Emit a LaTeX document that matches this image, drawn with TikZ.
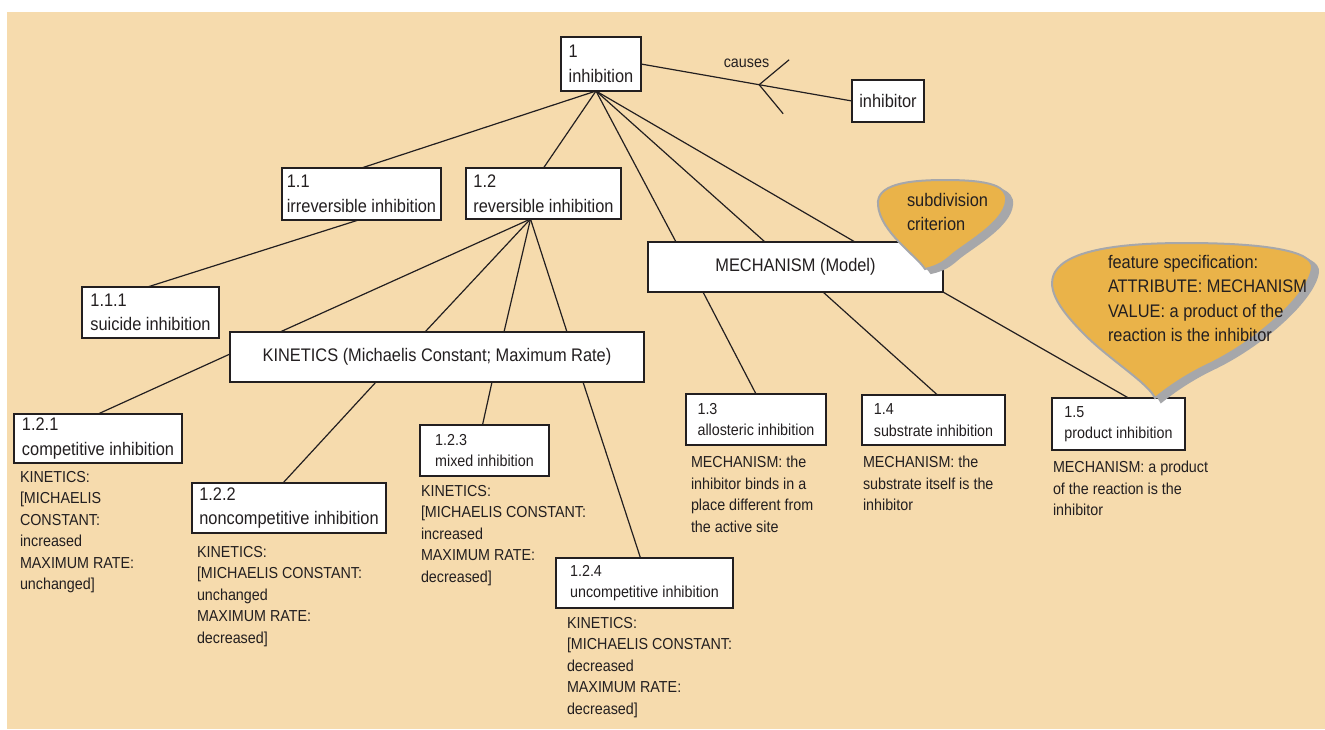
\documentclass[tikz,border=0pt]{standalone}
\usepackage{fontspec}
\setmainfont{Liberation Sans}[FakeStretch=0.9]
\usetikzlibrary{positioning}
\definecolor{ink}{RGB}{35,31,32}
\definecolor{paper}{RGB}{246,219,173}
\definecolor{bubble}{RGB}{234,179,73}
\definecolor{shade}{RGB}{166,167,170}
\newcommand\boxfont{\fontsize{18.2}{24.5}\selectfont}
\newcommand\notefont{\fontsize{15.9}{21.5}\selectfont}

\begin{document}
\begin{tikzpicture}[
    x=1pt, y=-1pt,
    every node/.style={
        text=ink, inner sep=0pt, outer sep=0pt
    },
    box/.style={
        draw=ink, fill=white, line width=1.3pt,
        align=left, anchor=north west, font=\boxfont
    },
    small/.style={
        font=\notefont
    },
    wh/.style 2 args={
        minimum width=#1pt, minimum height=#2pt
    },
    note/.style={
        align=left, anchor=north west, font=\notefont
    },
    link/.style={
        draw=ink, line width=1.2pt
    },
    balloon/.style={
        fill=bubble, draw=shade, line width=2pt,
        preaction={draw=shade, fill=shade, line width=2pt,
            transform canvas={xshift=6pt, yshift=-4pt}}
    },
    balloon text/.style={
        align=left, anchor=north west, font=\boxfont
    }
]
    \useasboundingbox (0,0) rectangle (1325,729);
    \fill[paper] (7,12) rectangle (1325,729);

    \node[box, wh={80}{54}] (inhibition) at (561,37) {1\\inhibition};
    \node[box, wh={72}{42}, align=center] (inhibitor) at (852,80) {inhibitor};
    \node[box, wh={159}{52}] (irreversible) at (282,168) {1.1\\irreversible inhibition};
    \node[box, wh={155}{51}] (reversible) at (466,168) {1.2\\reversible inhibition};
    \node[box, wh={295}{50}, align=center] (mechanism) at (648,242) {MECHANISM (Model)};
    \node[box, wh={137}{51}] (suicide) at (82,287) {1.1.1\\suicide inhibition};
    \node[box, wh={414}{50}, align=center] (kinetics) at (230,332)
        {KINETICS (Michaelis Constant; Maximum Rate)};
    \node[box, wh={168}{49}] (competitive) at (14,414) {1.2.1\\competitive inhibition};
    \node[box, wh={194}{50}] (noncompetitive) at (192,483) {1.2.2\\noncompetitive inhibition};
    \node[box, small, wh={129}{51}] (mixed) at (420,425) {1.2.3\\mixed inhibition};
    \node[box, small, wh={177}{50}] (uncompetitive) at (556,558) {1.2.4\\uncompetitive inhibition};
    \node[box, small, wh={140}{51}] (allosteric) at (686,394) {1.3\\allosteric inhibition};
    \node[box, small, wh={143}{50}] (substrate) at (862,395) {1.4\\substrate inhibition};
    \node[box, small, wh={133}{52}] (product) at (1052,398) {1.5\\product inhibition};

    \node[note] (competitive note) at ([shift={(6,8)}]competitive.south west)
        {KINETICS:\\{}[MICHAELIS\\CONSTANT:\\increased\\MAXIMUM RATE:\\unchanged]};
    \node[note] (noncompetitive note) at ([shift={(5,13)}]noncompetitive.south west)
        {KINETICS:\\{}[MICHAELIS CONSTANT:\\unchanged\\MAXIMUM RATE:\\decreased]};
    \node[note] (mixed note) at ([shift={(1,9)}]mixed.south west)
        {KINETICS:\\{}[MICHAELIS CONSTANT:\\increased\\MAXIMUM RATE:\\decreased]};
    \node[note] (uncompetitive note) at ([shift={(11,9)}]uncompetitive.south west)
        {KINETICS:\\{}[MICHAELIS CONSTANT:\\decreased\\MAXIMUM RATE:\\decreased]};
    \node[note] (allosteric note) at ([shift={(5,11)}]allosteric.south west)
        {MECHANISM: the\\inhibitor binds in a\\place different from\\the active site};
    \node[note] (substrate note) at ([shift={(1,11)}]substrate.south west)
        {MECHANISM: the\\substrate itself is the\\inhibitor};
    \node[note] (product note) at ([shift={(1,11)}]product.south west)
        {MECHANISM: a product\\of the reaction is the\\inhibitor};

    \draw[link] (inhibition.east)
        -- node[pos=0.5, above=15pt, font=\notefont] (causes) {causes}
        coordinate[pos=0.56] (crowfoot)
        (inhibitor.west);
    \draw[link] (crowfoot) -- ++(30,-25) (crowfoot) -- ++(24,29);

    \draw[link] ([xshift=-5pt]inhibition.south) -- (irreversible.north);
    \draw[link] ([xshift=-5pt]inhibition.south) -- (reversible.north);
    \foreach \dx in {28,117,207}
        \draw[link] ([xshift=-5pt]inhibition.south) -- ([xshift=\dx pt]mechanism.north west);

    \draw[link] ([xshift=-3pt]irreversible.south) -- ([xshift=-3pt]suicide.north);
    \foreach \dx in {50,195,274,337}
        \draw[link] ([xshift=-13pt]reversible.south) -- ([xshift=\dx pt]kinetics.north west);

    \draw[link] ([yshift=3pt]kinetics.west) -- (competitive.north);
    \draw[link] ([xshift=146pt]kinetics.south west) -- ([xshift=-6pt]noncompetitive.north);
    \draw[link] ([xshift=262pt]kinetics.south west) -- ([xshift=-2pt]mixed.north);
    \draw[link] ([xshift=353pt]kinetics.south west) -- ([xshift=-4pt]uncompetitive.north);

    \draw[link] ([xshift=55pt]mechanism.south west) -- (allosteric.north);
    \draw[link] ([xshift=175pt]mechanism.south west) -- ([xshift=4pt]substrate.north);
    \draw[link] (mechanism.south east) -- ([xshift=10pt]product.north);

    \path[balloon] (925,269)
        .. controls (917,256) and (880,232) .. (878,205)
        .. controls (876,185) and (905,180) .. (945,180)
        .. controls (990,180) and (1008,186) .. (1006,201)
        .. controls (1004,222) and (968,242) .. (953,254)
        .. controls (945,261) and (939,266) .. (925,269) -- cycle;
    \node[balloon text] (criterion) at (907,193) {subdivision\\criterion};

    \path[balloon] (1155,398)
        .. controls (1148,383) and (1110,360) .. (1085,335)
        .. controls (1062,312) and (1045,290) .. (1055,272)
        .. controls (1068,250) and (1120,243) .. (1185,243)
        .. controls (1260,243) and (1314,250) .. (1312,268)
        .. controls (1309,295) and (1255,343) .. (1205,366)
        .. controls (1185,376) and (1170,386) .. (1155,398) -- cycle;
    \node[balloon text] (specification) at (1108,255)
        {feature specification:\\ATTRIBUTE: MECHANISM\\VALUE: a product of the\\reaction is the inhibitor};
\end{tikzpicture}
\end{document}
